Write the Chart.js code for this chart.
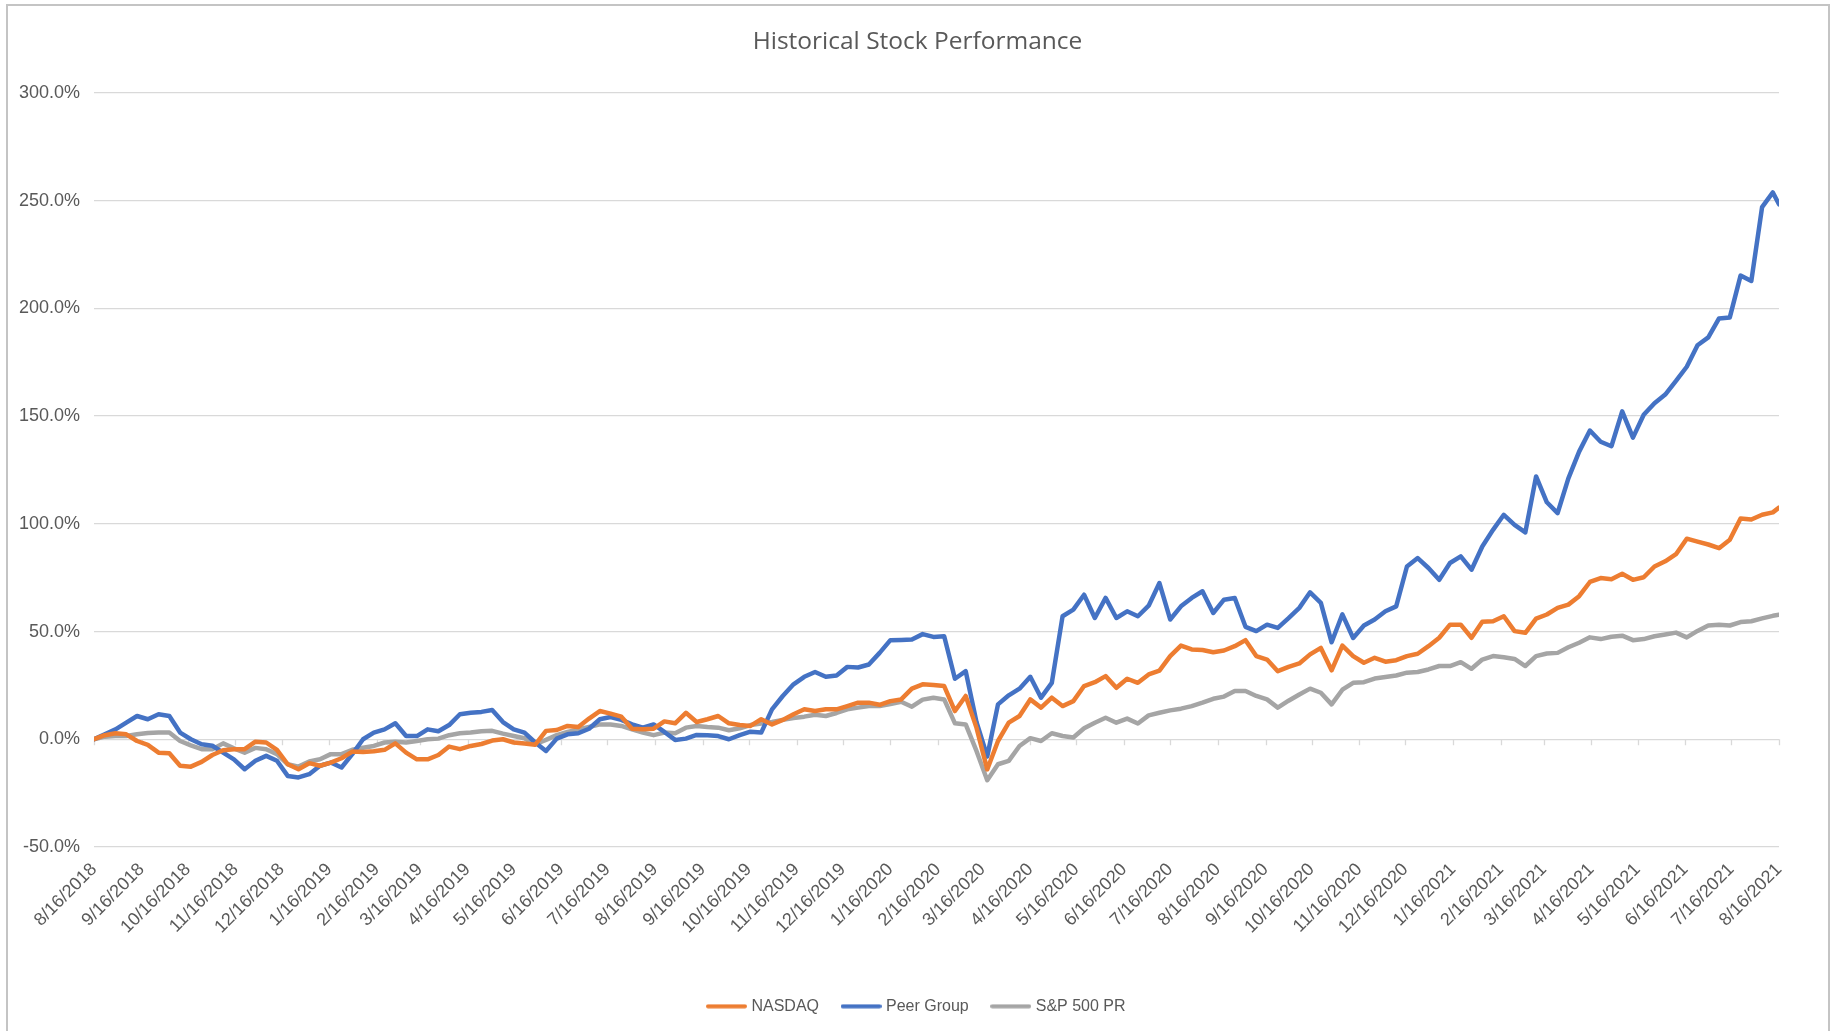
<!DOCTYPE html>
<html><head><meta charset="utf-8">
<script src="https://cdn.jsdelivr.net/npm/chart.js@4.4.0/dist/chart.umd.min.js"></script>
<style>
html,body{margin:0;padding:0;background:#fff;overflow:hidden;}
#wrap{position:relative;width:1835px;height:1031px;overflow:hidden;}
#frame{position:absolute;left:6px;top:4px;width:1824px;height:1100px;border:2px solid #c4c4c4;box-sizing:border-box;pointer-events:none;}
canvas{position:absolute;left:0;top:0;}
</style></head><body>
<div id="wrap"><canvas id="c" width="1835" height="1031"></canvas><div id="frame"></div></div>
<script>
const startDate = '8/16/2018';
const endDate = '8/16/2021';
const tickLabels = ['8/16/2018','9/16/2018','10/16/2018','11/16/2018','12/16/2018',
 '1/16/2019','2/16/2019','3/16/2019','4/16/2019','5/16/2019','6/16/2019','7/16/2019','8/16/2019','9/16/2019','10/16/2019','11/16/2019','12/16/2019',
 '1/16/2020','2/16/2020','3/16/2020','4/16/2020','5/16/2020','6/16/2020','7/16/2020','8/16/2020','9/16/2020','10/16/2020','11/16/2020','12/16/2020',
 '1/16/2021','2/16/2021','3/16/2021','4/16/2021','5/16/2021','6/16/2021','7/16/2021','8/16/2021'];

// weekly readings (in %) from 8/16/2018, last value at 8/16/2021
const nasdaq = [
0, 1.9, 2.8, 2.3, -0.8, -2.6, -6.2, -6.5, -12.3, -12.7,
-10.5, -7.3, -5.1, -4.6, -4.6, -1.1, -1.5, -4.9, -11.6, -13.9,
-11.1, -12.3, -10.8, -8.8, -5.7, -5.9, -5.6, -4.9, -1.9, -6.2,
-9.3, -9.3, -7.3, -3.4, -4.6, -3.1, -2.2, -0.6, 0, -1.5,
-2.0, -2.5, 3.9, 4.3, 6.2, 5.7, 9.6, 13.1, 11.9, 10.5,
4.9, 4.6, 4.9, 8.3, 7.4, 12.3, 8.0, 9.3, 10.8, 7.4,
6.6, 6.2, 9.3, 6.9, 9.0, 11.6, 13.9, 13.1, 13.9, 13.9,
15.4, 17.0, 17.0, 16.0, 17.7, 18.5, 23.5, 25.5, 25.2, 24.7,
13.1, 20.1, 5.4, -14, -0.8, 7.7, 10.8, 18.5, 14.7, 19.3,
15.4, 17.7, 24.7, 26.5, 29.3, 23.9, 28.1, 26.2, 30.1, 31.9,
38.6, 43.5, 41.7, 41.4, 40.4, 41.2, 43.2, 46, 38.6, 37.0,
31.6, 33.6, 35.2, 39.4, 42.4, 32, 43.5, 38.6, 35.5, 37.8,
36, 36.7, 38.6, 39.7, 43.2, 47.1, 53.2, 53.2, 47.1, 54.5,
54.8, 57.1, 50.2, 49.4, 56.0, 57.9, 61.0, 62.5, 66.4, 73.0,
74.8, 74.3, 76.8, 74, 75.2, 80.2, 82.6, 85.9, 93.1, 91.7,
90.4, 88.7, 92.6, 102.5, 102.0, 104.2, 105.3, 107.5];

const peerGroup = [
0, 2.3, 4.6, 7.7, 10.8, 9.3, 11.6, 10.8, 3.1, 0,
-2.3, -3, -6.2, -9.3, -13.9, -10, -7.7, -10, -17, -17.7,
-16.2, -12.3, -10.8, -13.1, -6.9, 0, 3.1, 4.6, 7.4, 1.5,
1.5, 4.6, 3.7, 6.6, 11.6, 12.3, 12.7, 13.6, 8.0, 4.6,
3.1, -1.5, -5.4, 0.3, 2.3, 2.8, 4.9, 9.3, 10.3, 9.0,
6.9, 5.4, 6.9, 3.4, -0.3, 0.3, 2.0, 1.9, 1.5, 0,
1.9, 3.5, 3.1, 13.9, 20.1, 25.5, 29.0, 31.2, 29.0, 29.6,
33.6, 33.3, 34.7, 40.1, 46.0, 46.1, 46.3, 48.8, 47.5, 47.8,
28.1, 31.6, 8.0, -8, 16.2, 20.4, 23.5, 29, 19.3, 26.2,
57.1, 60.2, 67.1, 56.3, 65.6, 56.3, 59.4, 57.1, 62.0, 72.5,
55.6, 61.7, 65.6, 68.7, 58.6, 64.8, 65.6, 52.2, 50.2, 53.2,
51.7, 56.2, 61.0, 68.2, 63.3, 45, 58, 47, 52.8, 55.6,
59.4, 61.7, 80.2, 84.1, 79.5, 74, 81.8, 84.9, 78.7, 89.5,
97.2, 104.2, 99.5, 96, 122, 110, 105, 121.1, 133.5, 143.3,
138.1, 136, 152.2, 140, 150.6, 156.0, 160.0, 166.3, 172.9, 182.9,
186.5, 195.3, 195.8, 215.2, 212.7, 247.0, 253.8, 248.3];

const sp500 = [
0, 1.2, 1.5, 1.5, 2.3, 2.9, 3.1, 3.1, -0.8, -2.8,
-4.6, -4.6, -1.9, -4.2, -6.2, -4.0, -4.6, -6.9, -11.6, -12.7,
-10.3, -9.3, -6.9, -6.9, -4.9, -3.9, -3.1, -1.5, -1.2, -1.5,
-0.8, 0, 0.3, 1.9, 2.8, 3.1, 3.7, 3.9, 2.6, 1.5,
0.5, -2.3, -0.3, 1.9, 3.4, 4.6, 5.7, 6.9, 6.9, 6.2,
4.6, 3.1, 1.9, 3.1, 2.8, 5.4, 6.2, 5.7, 5.4, 4.2,
5.1, 6.6, 7.3, 8.0, 9.0, 9.9, 10.5, 11.4, 10.8, 12.2,
13.9, 14.7, 15.4, 15.4, 16.4, 17.4, 15.1, 18.4, 19.3, 18.5,
7.4, 6.9, -5.4, -19, -11.6, -10.0, -3.1, 0.5, -0.8, 2.8,
1.5, 0.8, 5.1, 7.7, 10.0, 7.7, 9.6, 7.3, 11.1, 12.3,
13.4, 14.2, 15.4, 17.0, 18.8, 19.8, 22.4, 22.4, 20.1, 18.5,
14.7, 17.9, 20.8, 23.5, 21.6, 16.2, 23, 26.2, 26.5, 28.2,
28.9, 29.6, 30.9, 31.2, 32.4, 34.0, 34.0, 35.8, 32.7, 37.0,
38.6, 38.1, 37.3, 34.0, 38.6, 39.8, 40.1, 42.7, 44.8, 47.3,
46.5, 47.6, 48.1, 46, 46.5, 47.8, 48.6, 49.5, 47.3, 50.3,
52.8, 53.1, 52.8, 54.4, 54.8, 56.1, 57.3, 57.8];

const seriesColors = ['#ED7D31', '#4472C4', '#A5A5A5'];

function dayNum(s){ const [m,d,y] = s.split('/').map(Number); return Date.UTC(y, m-1, d)/86400000; }
const day0 = dayNum(startDate);
const totalDays = dayNum(endDate) - day0;
const tickDays = tickLabels.map(s => dayNum(s) - day0);
// weekly sample dates, final sample on the end date
const sampleDays = nasdaq.map((_, i) => i === nasdaq.length - 1 ? totalDays : i * 7);
const toPts = arr => arr.map((v, i) => ({x: sampleDays[i], y: v}));

function swatch(color){
  const c = document.createElement('canvas');
  c.width = 41; c.height = 5;
  const g = c.getContext('2d');
  g.strokeStyle = color; g.lineWidth = 4; g.lineCap = 'round';
  g.beginPath(); g.moveTo(2, 2.5); g.lineTo(39, 2.5); g.stroke();
  return c;
}

const axisTicks = {
  id: 'axisTicks',
  beforeDatasetsDraw(chart) {
    const {ctx, scales: {x, y}} = chart;
    const y0 = y.getPixelForValue(0);
    ctx.save();
    ctx.strokeStyle = '#d9d9d9';
    ctx.lineWidth = 1.3;
    ctx.beginPath();
    x.ticks.forEach(t => {
      const px = Math.round(x.getPixelForValue(t.value)) + 0.5;
      ctx.moveTo(px, y0); ctx.lineTo(px, y0 + 6);
    });
    ctx.stroke();
    ctx.restore();
  }
};

const axisFont = {family: '"Liberation Sans", Arial, sans-serif', size: 18};
const lineStyle = {borderWidth: 4.5, pointRadius: 0, tension: 0, borderJoinStyle: 'round', borderCapStyle: 'round'};
new Chart(document.getElementById('c'), {
  type: 'line',
  data: { datasets: [
    Object.assign({label: 'NASDAQ', data: toPts(nasdaq), borderColor: seriesColors[0], backgroundColor: seriesColors[0]}, lineStyle),
    Object.assign({label: 'Peer Group', data: toPts(peerGroup), borderColor: seriesColors[1], backgroundColor: seriesColors[1]}, lineStyle),
    Object.assign({label: 'S&P 500 PR', data: toPts(sp500), borderColor: seriesColors[2], backgroundColor: seriesColors[2]}, lineStyle)
  ]},
  options: {
    responsive: false, animation: false, devicePixelRatio: 1,
    layout: {padding: {left: 0, right: 0, top: 0, bottom: 6.7}},
    plugins: {
      title: {display: true, text: 'Historical Stock Performance', color: '#595959',
        font: {family: '"Open Sans", "Noto Sans", sans-serif', size: 24.5, weight: 'normal'},
        padding: {top: 27.5, bottom: 36}},
      legend: {position: 'bottom',
        labels: {usePointStyle: true, pointStyleWidth: 34, boxHeight: 16, padding: 25, color: '#595959',
          font: {family: '"Liberation Sans", Arial, sans-serif', size: 16},
          generateLabels: chart => Chart.defaults.plugins.legend.labels.generateLabels(chart)
            .map((l, i) => Object.assign(l, {lineWidth: 0, pointStyle: swatch(seriesColors[i])}))}},
      tooltip: {enabled: false}
    },
    scales: {
      x: {type: 'linear', min: 0, max: totalDays,
        afterBuildTicks: s => { s.ticks = tickDays.map(v => ({value: v})); },
        ticks: {autoSkip: false, minRotation: 45, maxRotation: 45, padding: 12, color: '#595959', font: axisFont,
          callback: (v, i) => tickLabels[i]},
        grid: {display: false, drawTicks: false}, border: {display: false},
        afterFit: s => { s.height = 126.3; }},
      y: {min: -50, max: 300,
        ticks: {stepSize: 50, padding: 14, color: '#595959', font: axisFont, callback: v => v.toFixed(1) + '%'},
        grid: {color: '#D9D9D9', lineWidth: 1.3, drawTicks: false}, border: {display: false},
        afterFit: s => { s.width = 94; }},
      yRight: {position: 'right', display: true, min: 0, max: 1,
        ticks: {display: false}, grid: {display: false, drawTicks: false}, border: {display: false},
        afterFit: s => { s.width = 56; }}
    }
  },
  plugins: [axisTicks]
});
</script>
</body></html>
